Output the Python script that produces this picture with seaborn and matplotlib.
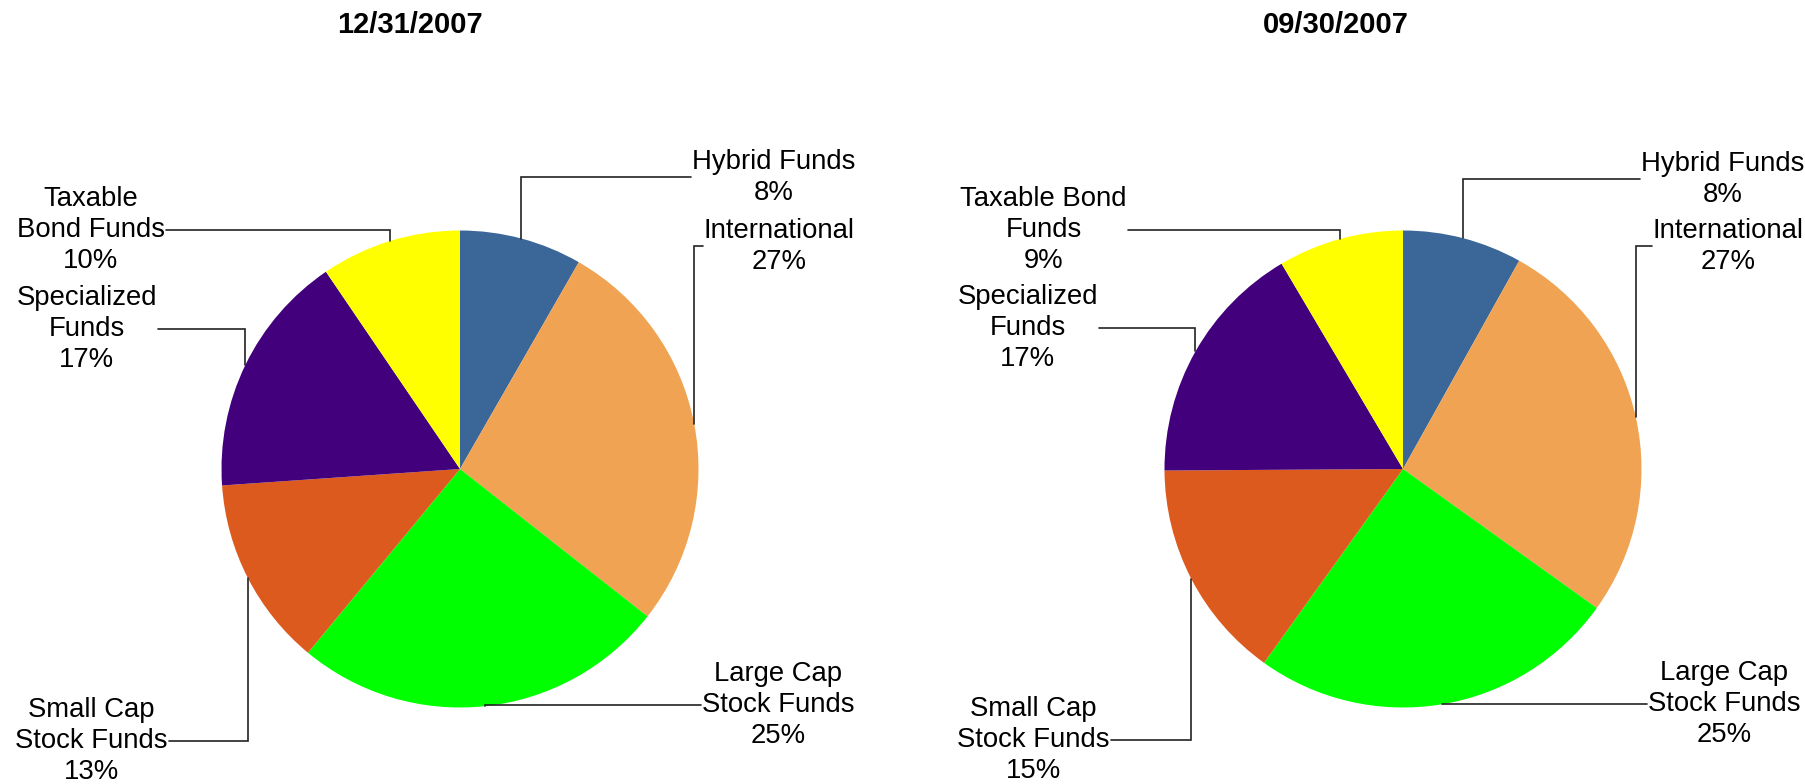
import numpy as np
import seaborn as sns
import matplotlib
matplotlib.use("Agg")
import matplotlib.pyplot as plt

# fund categories, clockwise from 12 o'clock
labels_dec = ["Hybrid Funds", "International", "Large Cap\nStock Funds",
              "Small Cap\nStock Funds", "Specialized\nFunds", "Taxable\nBond Funds"]
labels_sep = ["Hybrid Funds", "International", "Large Cap\nStock Funds",
              "Small Cap\nStock Funds", "Specialized\nFunds", "Taxable Bond\nFunds"]

# slice shares (%)
shares_dec = [8.3, 27.3, 25.4, 12.9, 16.6, 9.5]
shares_sep = [8.1, 26.8, 25.0, 15.0, 16.6, 8.5]

# percentages printed on the labels
pct_dec = [8, 27, 25, 13, 17, 10]
pct_sep = [8, 27, 25, 15, 17, 9]

titles = ["12/31/2007", "09/30/2007"]

colors = sns.color_palette(["#3A6698", "#F0A352", "#00FF00", "#DD5A1F", "#42007C", "#FFFF00"])

W, H = 1806, 784
sns.set_theme(style="white")
plt.rcParams["font.family"] = ["Liberation Sans", "DejaVu Sans"]

fig = plt.figure(figsize=(W / 100, H / 100), dpi=100)
ax = fig.add_axes([0, 0, 1, 1])

# layout in pixels (top-left origin): pie centres, radius, label anchors
centers = [(460, 469), (1403, 469)]
radius = 238.5
title_x = [410, 1336]
anchors = [
    [(691, 177, "l"), (703, 246, "l"), (701, 705, "l"),
     (169, 741, "r"), (158, 329, "r"), (166, 230, "r")],
    [(1640, 179, "l"), (1652, 246, "l"), (1647, 704, "l"),
     (1111, 740, "r"), (1099, 328, "r"), (1128, 230, "r")],
]

series = [(shares_dec, labels_dec, pct_dec), (shares_sep, labels_sep, pct_sep)]

for k, (shares, labels, pcts) in enumerate(series):
    cx, cy = centers[k]
    wedges, _ = ax.pie(shares, colors=colors, startangle=90, counterclock=False,
                       center=(cx, H - cy), radius=radius,
                       wedgeprops=dict(linewidth=0, edgecolor="none"))
    for w, lab, p, (ax_x, ax_y, side) in zip(wedges, labels, pcts, anchors[k]):
        mid = np.deg2rad((w.theta1 + w.theta2) / 2)
        ex = cx + radius * np.cos(mid)
        ey = H - cy + radius * np.sin(mid)
        ly = H - ax_y
        ax.plot([ex, ex, ax_x], [ey, ly, ly], color="#222222", lw=1.2,
                solid_joinstyle="miter", zorder=3)
        if side == "l":
            tx, ha = ax_x + 1, "left"
        else:
            tx, ha = ax_x - 1, "right"
        ax.text(tx, ly, f"{lab}\n{p}%", ha=ha, va="center", multialignment="center",
                fontsize=19.8, color="black", linespacing=1.25)
    ax.text(title_x[k], H - 25, titles[k], ha="center", va="center",
            fontsize=21, fontweight="bold", color="black")

ax.set_xlim(0, W)
ax.set_ylim(0, H)
ax.set_aspect("equal")
ax.axis("off")

fig.savefig("out.png", dpi=100, facecolor="white")
